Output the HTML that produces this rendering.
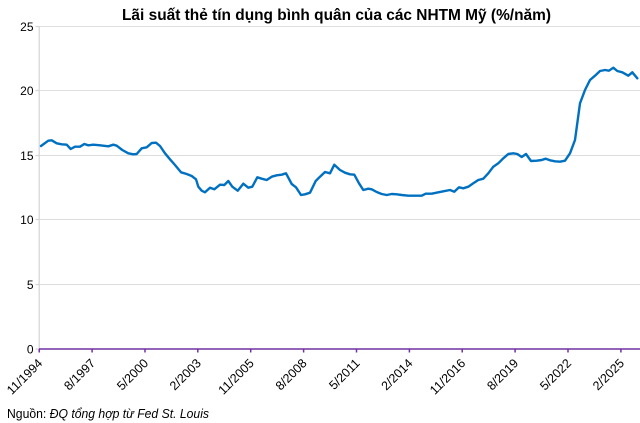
<!DOCTYPE html>
<html>
<head>
<meta charset="utf-8">
<style>
html,body{margin:0;padding:0;background:#fff;}
svg{display:block;}
text{font-family:"Liberation Sans","DejaVu Sans",sans-serif;fill:#000;}
</style>
</head>
<body>
<svg width="640" height="423" viewBox="0 0 640 423" xmlns="http://www.w3.org/2000/svg">
<rect x="0" y="0" width="640" height="423" fill="#fff"/>
<!-- title -->
<text x="122" y="20" font-size="15.5" font-weight="bold" textLength="429" lengthAdjust="spacingAndGlyphs">Lãi suất thẻ tín dụng bình quân của các NHTM Mỹ (%/năm)</text>
<!-- gridlines -->
<g stroke="#dedede" stroke-width="1">
<line x1="39" y1="26.5" x2="640" y2="26.5"/>
<line x1="39" y1="90.5" x2="640" y2="90.5"/>
<line x1="39" y1="155.5" x2="640" y2="155.5"/>
<line x1="39" y1="219.5" x2="640" y2="219.5"/>
<line x1="39" y1="284.5" x2="640" y2="284.5"/>
</g>
<!-- y axis -->
<g stroke="#d4d4d4" stroke-width="1.2">
<line x1="39.2" y1="26" x2="39.2" y2="349"/>
<line x1="35.5" y1="26.5" x2="39.2" y2="26.5"/>
<line x1="35.5" y1="90.5" x2="39.2" y2="90.5"/>
<line x1="35.5" y1="155.5" x2="39.2" y2="155.5"/>
<line x1="35.5" y1="219.5" x2="39.2" y2="219.5"/>
<line x1="35.5" y1="284.5" x2="39.2" y2="284.5"/>
<line x1="35.5" y1="349" x2="39.2" y2="349"/>
</g>
<g font-size="12" text-anchor="end">
<text x="33.5" y="31">25</text>
<text x="33.5" y="95">20</text>
<text x="33.5" y="160">15</text>
<text x="33.5" y="224">10</text>
<text x="33.5" y="289">5</text>
<text x="33.5" y="353.5">0</text>
</g>
<!-- x axis -->
<g stroke="#7030a0" stroke-width="1.5">
<line x1="39" y1="349" x2="640" y2="349"/>
<line x1="39.2" y1="349" x2="39.2" y2="352.5"/>
<line x1="92.1" y1="349" x2="92.1" y2="352.5"/>
<line x1="145.0" y1="349" x2="145.0" y2="352.5"/>
<line x1="197.8" y1="349" x2="197.8" y2="352.5"/>
<line x1="250.7" y1="349" x2="250.7" y2="352.5"/>
<line x1="303.6" y1="349" x2="303.6" y2="352.5"/>
<line x1="356.5" y1="349" x2="356.5" y2="352.5"/>
<line x1="409.4" y1="349" x2="409.4" y2="352.5"/>
<line x1="462.2" y1="349" x2="462.2" y2="352.5"/>
<line x1="515.1" y1="349" x2="515.1" y2="352.5"/>
<line x1="568.0" y1="349" x2="568.0" y2="352.5"/>
<line x1="620.9" y1="349" x2="620.9" y2="352.5"/>
</g>
<g font-size="12.5" text-anchor="end">
<text transform="translate(43.2,364) rotate(-45)">11/1994</text>
<text transform="translate(96.1,364) rotate(-45)">8/1997</text>
<text transform="translate(149.0,364) rotate(-45)">5/2000</text>
<text transform="translate(201.8,364) rotate(-45)">2/2003</text>
<text transform="translate(254.7,364) rotate(-45)">11/2005</text>
<text transform="translate(307.6,364) rotate(-45)">8/2008</text>
<text transform="translate(360.5,364) rotate(-45)">5/2011</text>
<text transform="translate(413.4,364) rotate(-45)">2/2014</text>
<text transform="translate(466.2,364) rotate(-45)">11/2016</text>
<text transform="translate(519.1,364) rotate(-45)">8/2019</text>
<text transform="translate(572.0,364) rotate(-45)">5/2022</text>
<text transform="translate(624.9,364) rotate(-45)">2/2025</text>
</g>
<!-- data line -->
<polyline fill="none" stroke="#0070c0" stroke-width="2.4" stroke-linejoin="round" stroke-linecap="round" points="
41,146 48.3,140.7 51.7,140.3 56.7,143.3 61.7,144.3 66.7,144.7 70.7,149 75,146.7 80,146.7 84.3,144 88.3,145.3 93.3,144.7 100,145.3 108.3,146.3 113.3,144.7 116.7,145.7 122.3,150 128.3,153.3 133.3,154.3 136.7,154 141.7,148.3 146.7,147.3 151.7,143 156,142.7 160,146 165,153.3 170,159.3 175,165 181,172.3 186.7,174 191.7,176 196,179.3
198.3,186.7 201.7,190.7 205,192.3 210,187.7 214.3,189.3 220,184.7 224.3,185 228.3,181 232.3,186.7 237.7,190.7 243.3,183.7 248.3,187.7 252.3,186.7 257.3,177.3 261.7,178.7 266.7,180 271.7,176.7 276.7,175.3 281.7,174.7 286,173.3 291.7,184 296,187.3 301,195 305,194.3 310,192.7 315.7,181 320,176.7 325,172 330,173.3 334.3,164.7 340,170 345,172.7 350,174.3 354.3,174.7
359,183.3 363.3,190 368.3,188.7 371.7,189.3 376.7,192 381.7,194 386.7,195 391.7,194 396.7,194.3 401.7,195 408.3,195.7 421.7,195.7 425.7,193.7 431.7,193.7 438.3,192.3 443.3,191.3 450,190 454.3,191.7 459,187.3 463.3,188.3 468.3,186.7 473.3,183.3 478.3,180 483.3,178.7 488.3,173.3 493.3,166.7 498.3,163.3 503.3,158.3 508.3,154 513.3,153.3 517.3,154
521.7,157 526,154 531,161 536.7,160.7 541.7,160 545.7,158.7 550,160.3 555,161.3 560,161.7 565,160.7 570,153.3 575,140 580,103.3 585,90 590,80 595,75.7 600,71 605,70 609,70.7 613.3,67.7 617.3,71 622.3,72.3 628.3,75.7 632.3,72.3 637.3,78.3"/>
<!-- footer -->
<text x="7" y="418" font-size="13" textLength="202" lengthAdjust="spacingAndGlyphs">Nguồn: <tspan font-style="italic">ĐQ tổng hợp từ Fed St. Louis</tspan></text>
</svg>
</body>
</html>
